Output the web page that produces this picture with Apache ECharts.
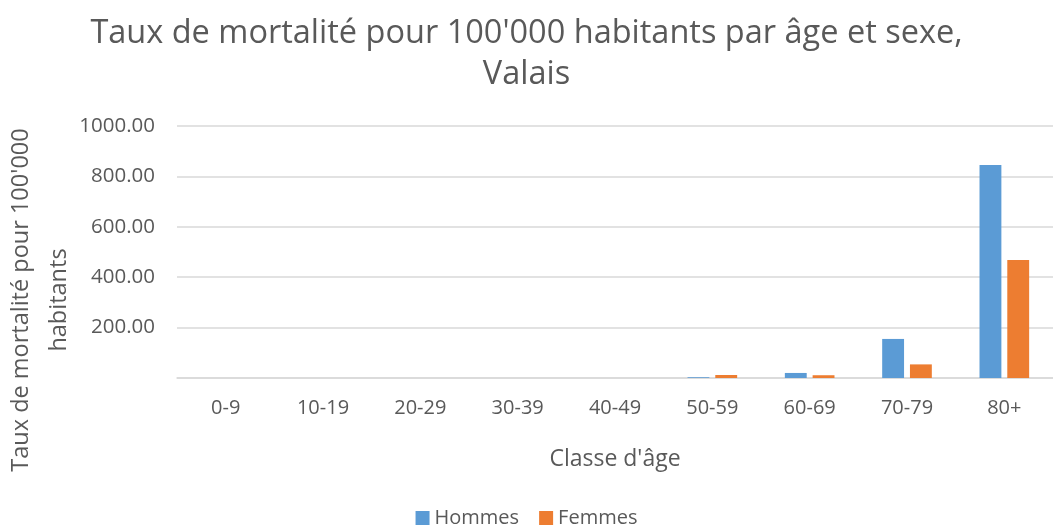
<!DOCTYPE html>
<html lang="fr">
<head>
  <meta charset="UTF-8">
  <title>Taux de mortalité</title>
  <script src="https://cdn.jsdelivr.net/npm/echarts@6/dist/echarts.min.js"></script>
</head>
<body style="margin:0;">
  <div id="main" style="width:1053px;height:529px;"></div>
  <script type="text/javascript">
    var categories = ["0-9", "10-19", "20-29", "30-39", "40-49", "50-59", "60-69", "70-79", "80+"];
    var hommes = [0, 0, 0, 0, 0, 3, 20, 155, 845];
    var femmes = [0, 0, 0, 0, 0, 12, 11, 54, 468];
    var yTicks = { min: 0, max: 1000, interval: 200 };

    var grey = '#595959';
    var font = '"Open Sans", "Noto Sans", sans-serif';

    var myChart = echarts.init(document.getElementById('main'));
    var option = {
      textStyle: { fontFamily: font },
      title: {
        text: "Taux de mortalité pour 100'000 habitants par âge et sexe,\nValais",
        left: 'center',
        top: 8,
        textStyle: { color: grey, fontSize: 32.5, fontWeight: 'normal', lineHeight: 41, fontFamily: font }
      },
      legend: {
        bottom: -4,
        left: 'center',
        itemWidth: 14,
        itemHeight: 14,
        itemGap: 20,
        icon: 'rect',
        textStyle: { color: grey, fontSize: 20, fontFamily: font },
        data: ['Hommes', 'Femmes']
      },
      grid: { left: 177, top: 126, width: 882, height: 252 },
      graphic: [{
        type: 'text',
        rotation: Math.PI / 2,
        x: 2,
        y: 300,
        style: {
          text: "Taux de mortalité pour 100'000\nhabitants",
          fill: grey,
          font: '23.5px ' + font,
          align: 'center',
          lineHeight: 38
        }
      }],
      xAxis: {
        type: 'category',
        data: categories,
        name: "Classe d'âge",
        nameLocation: 'middle',
        nameGap: 70,
        nameTextStyle: { color: grey, fontSize: 23, fontFamily: font },
        axisLine: { lineStyle: { color: '#D9D9D9', width: 1.5 } },
        axisTick: { show: false },
        axisLabel: { color: grey, fontSize: 20, margin: 20, fontFamily: font }
      },
      yAxis: {
        type: 'value',
        min: yTicks.min,
        max: yTicks.max,
        interval: yTicks.interval,
        axisLine: { show: false },
        axisTick: { show: false },
        axisLabel: {
          color: grey, fontSize: 20.5, margin: 22, fontFamily: font,
          formatter: function (v) { return v === 0 ? '' : v.toFixed(2); }
        },
        splitLine: { lineStyle: { color: '#D9D9D9', width: 1.5 } }
      },
      series: [
        {
          name: 'Hommes',
          type: 'bar',
          data: hommes,
          barGap: '27%',
          barCategoryGap: '49%',
          itemStyle: { color: '#5B9BD5' }
        },
        {
          name: 'Femmes',
          type: 'bar',
          data: femmes,
          itemStyle: { color: '#ED7D31' }
        }
      ]
    };
    myChart.setOption(option);
  </script>
</body>
</html>
